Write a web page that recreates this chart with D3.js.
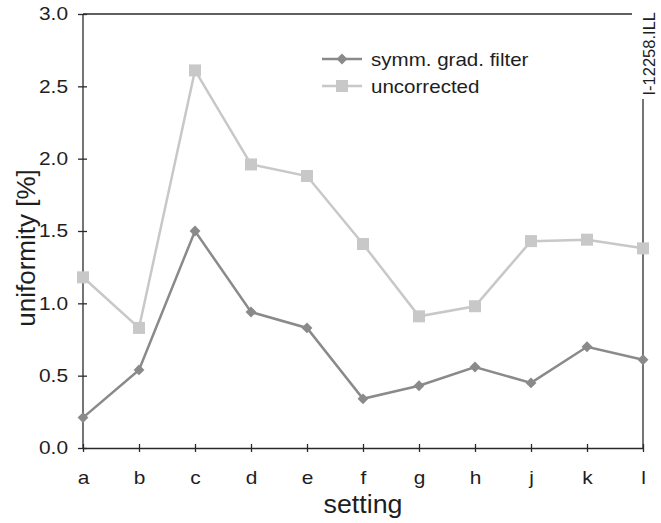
<!DOCTYPE html>
<html>
<head>
<meta charset="utf-8">
<script src="https://cdn.jsdelivr.net/npm/d3@7"></script>
<style>
  html, body { margin: 0; padding: 0; background: #fff; }
  svg { display: block; font-family: "Liberation Sans", Arial, sans-serif; }
</style>
</head>
<body>
<svg id="chart" width="661" height="523"></svg>
<script>
// Settings along the x axis
const settings = ["a", "b", "c", "d", "e", "f", "g", "h", "j", "k", "l"];
// Uniformity [%] per setting
const symmGradFilter = [0.21, 0.54, 1.50, 0.94, 0.83, 0.34, 0.43, 0.56, 0.45, 0.70, 0.61];
const uncorrected    = [1.18, 0.83, 2.61, 1.96, 1.88, 1.41, 0.91, 0.98, 1.43, 1.44, 1.38];
const yTicks = [0.0, 0.5, 1.0, 1.5, 2.0, 2.5, 3.0];
const seriesNames = ["symm. grad. filter", "uncorrected"];

const svg = d3.select("#chart");
const plotLeft = 83, plotRight = 643, plotTop = 14, plotBottom = 448;

const x = d3.scalePoint().domain(settings).range([plotLeft, plotRight]).padding(0);
const y = d3.scaleLinear().domain([0, 3]).range([plotBottom, plotTop]);

const axisColor = "#2a2a2a";
const textColor = "#1e1e1e";
const darkGray = "#8a8a8a";
const lightGray = "#c8c8c8";

// widen glyphs a little (the typeface is set slightly wide)
function widen(sel, factor) {
  sel.each(function () {
    const len = this.getComputedTextLength();
    d3.select(this).attr("textLength", len * factor).attr("lengthAdjust", "spacingAndGlyphs");
  });
}

// frame: top edge and partial right edge
svg.append("line").attr("x1", plotLeft).attr("x2", 632).attr("y1", plotTop).attr("y2", plotTop)
  .attr("stroke", axisColor).attr("stroke-width", 1.3);
svg.append("line").attr("x1", plotRight).attr("x2", plotRight).attr("y1", 99).attr("y2", plotBottom)
  .attr("stroke", axisColor).attr("stroke-width", 1.3);
svg.append("text")
  .attr("transform", `translate(655,12) rotate(-90)`)
  .attr("text-anchor", "end")
  .attr("font-size", 16.5)
  .attr("fill", textColor)
  .text("I-12258.ILL");

// y axis
const yAxis = svg.append("g").attr("transform", `translate(${plotLeft},0)`)
  .call(d3.axisLeft(y).tickValues(yTicks).tickFormat(d3.format(".1f")).tickSize(5).tickSizeOuter(0));
yAxis.select(".domain").remove();
yAxis.selectAll("line").attr("x2", 4).attr("x1", -5).attr("stroke", axisColor).attr("stroke-width", 1.3);
yAxis.selectAll("text").attr("x", -15).attr("font-size", 18.5).attr("fill", textColor)
  .attr("font-family", "Liberation Sans, Arial, sans-serif");
widen(yAxis.selectAll("text"), 1.13);
svg.append("line").attr("x1", plotLeft).attr("x2", plotLeft).attr("y1", plotTop).attr("y2", plotBottom)
  .attr("stroke", axisColor).attr("stroke-width", 1.3);

// x axis
const xAxis = svg.append("g").attr("transform", `translate(0,${plotBottom})`)
  .call(d3.axisBottom(x).tickSize(4).tickSizeOuter(0));
xAxis.selectAll("line").attr("y1", -4).attr("y2", 4).attr("stroke", axisColor).attr("stroke-width", 1.3);
xAxis.selectAll("text").attr("y", 23).attr("font-size", 19).attr("fill", textColor)
  .attr("font-family", "Liberation Sans, Arial, sans-serif");
widen(xAxis.selectAll("text"), 1.1);
xAxis.select(".domain").attr("stroke", axisColor).attr("stroke-width", 1.3);

// axis titles
svg.append("text")
  .attr("transform", `translate(35,248) rotate(-90)`)
  .attr("text-anchor", "middle")
  .attr("font-size", 26)
  .attr("fill", textColor)
  .text("uniformity [%]");
const xTitle = svg.append("text")
  .attr("x", 363)
  .attr("y", 513)
  .attr("text-anchor", "middle")
  .attr("font-size", 25.5)
  .attr("fill", textColor)
  .text("setting");
widen(xTitle, 1.05);

const line = d3.line().x((d, i) => x(settings[i])).y(d => y(d));

// uncorrected series (squares)
svg.append("path").datum(uncorrected).attr("d", line)
  .attr("fill", "none").attr("stroke", lightGray).attr("stroke-width", 2.5);
svg.selectAll(".sq").data(uncorrected).enter().append("rect")
  .attr("x", (d, i) => x(settings[i]) - 6).attr("y", d => y(d) - 6)
  .attr("width", 12).attr("height", 12).attr("fill", lightGray);

// symmetric gradient filter series (diamonds)
svg.append("path").datum(symmGradFilter).attr("d", line)
  .attr("fill", "none").attr("stroke", darkGray).attr("stroke-width", 2.5);
const diamond = d3.symbol().type(d3.symbolDiamond2).size(75);
svg.selectAll(".dm").data(symmGradFilter).enter().append("path")
  .attr("transform", (d, i) => `translate(${x(settings[i])},${y(d)})`)
  .attr("d", diamond).attr("fill", darkGray);

// legend
const legend = svg.append("g");
[darkGray, lightGray].forEach((c, i) => {
  const ly = 59 + i * 27;
  legend.append("line").attr("x1", 322).attr("x2", 362).attr("y1", ly).attr("y2", ly)
    .attr("stroke", c).attr("stroke-width", 2.5);
  if (i === 0) {
    legend.append("path").attr("transform", `translate(342,${ly})`).attr("d", diamond).attr("fill", c);
  } else {
    legend.append("rect").attr("x", 336).attr("y", ly - 6).attr("width", 12).attr("height", 12).attr("fill", c);
  }
  const t = legend.append("text").attr("x", 371).attr("y", ly + 6.5).attr("font-size", 18.5).attr("fill", textColor)
    .text(seriesNames[i]);
  widen(t, 1.11);
});
</script>
</body>
</html>
